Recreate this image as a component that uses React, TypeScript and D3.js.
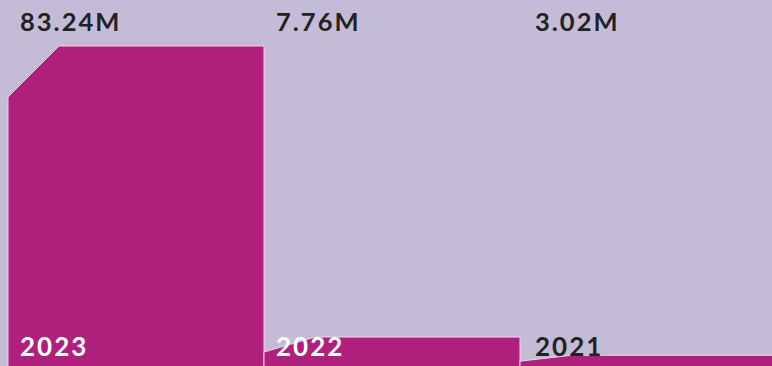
import React from "react";
import * as d3 from "d3";

const categories = ["2023", "2022", "2021"];
const values = [83.24, 7.76, 3.02];
const valueLabels = ["83.24M", "7.76M", "3.02M"];

const W = 772;
const H = 366;
const BG = "#c4bcd6";
const BAR = "#ae207c";
const STROKE = "#f2d0e8";
const DARK = "#222222";
const FONT = "Lato, 'Open Sans', sans-serif";

export default function App() {
  const x = d3.scaleBand<string>().domain(categories).range([8, 776]).padding(0);
  const y = d3.scaleLinear().domain([0, d3.max(values) as number]).range([367, 46]);
  const base = y(0);
  const cham = 51;

  return (
    <div
      style={{
        position: "fixed",
        left: 0,
        top: 0,
        width: W,
        height: H,
        overflow: "hidden",
        background: BG,
      }}
    >
      <svg width={W} height={H} style={{ display: "block" }}>
        <rect x={0} y={0} width={W} height={H} fill={BG} />
        {categories.map((c, i) => {
          const x0 = x(c) as number;
          const x1 = x0 + x.bandwidth();
          const yt = y(values[i]);
          const h = base - yt;
          const dy = Math.min(cham, h / 2);
          const path = d3.path();
          path.moveTo(x0, base + 2);
          path.lineTo(x0, yt + dy);
          path.lineTo(x0 + cham, yt);
          path.lineTo(x1, yt);
          path.lineTo(x1, base + 2);
          path.closePath();
          return (
            <path
              key={"b" + c}
              d={path.toString()}
              fill={BAR}
              stroke={STROKE}
              strokeWidth={1}
            />
          );
        })}
        {categories.map((c, i) => {
          const x0 = x(c) as number;
          const h = base - y(values[i]);
          const off = i === 2 ? 15 : 12;
          return (
            <g key={"t" + c} fontFamily={FONT} fontWeight={700}>
              <text
                x={x0 + off}
                y={30.5}
                fontSize={25.5}
                letterSpacing={2}
                fill={DARK}
              >
                {valueLabels[i]}
              </text>
              <text
                x={x0 + off}
                y={355.5}
                fontSize={26}
                letterSpacing={2}
                fill={h > 20 ? "#ffffff" : DARK}
              >
                {c}
              </text>
            </g>
          );
        })}
      </svg>
    </div>
  );
}
